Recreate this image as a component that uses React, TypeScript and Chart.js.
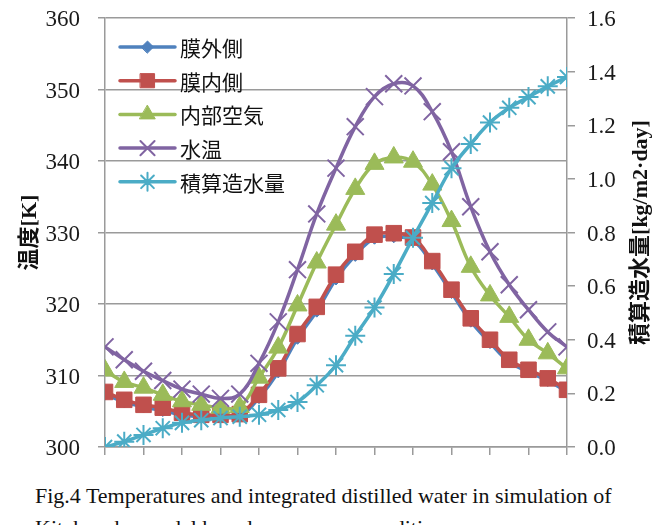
import React, { useEffect, useRef } from 'react';
import { Chart, registerables } from 'chart.js';
import { drawPoint } from 'chart.js/helpers';

Chart.register(...registerables);

// ---- data ----
const hours = [0, 1, 2, 3, 4, 5, 6, 7, 8, 9, 10, 11, 12, 13, 14, 15, 16, 17, 18, 19, 20, 21, 22, 23, 24];
const seriesNames = ['膜外側', '膜内側', '内部空気', '水温', '積算造水量'];
const membraneOuter = [307.4, 306.3, 305.6, 305.1, 304.5, 304.2, 304.2, 304.3, 306.9, 310.5, 315.2, 319.0, 323.5, 326.8, 329.2, 329.4, 328.9, 325.6, 321.6, 317.6, 314.6, 311.9, 310.5, 309.3, 307.7];
const membraneInner = [307.7, 306.6, 305.9, 305.5, 304.8, 304.5, 304.5, 304.6, 307.3, 311.0, 315.8, 319.6, 324.1, 327.3, 329.7, 329.9, 329.3, 326.0, 322.0, 318.0, 315.0, 312.2, 310.8, 309.6, 308.0];
const innerAir = [310.7, 309.1, 308.3, 307.3, 306.4, 305.9, 305.5, 305.6, 309.7, 313.9, 319.8, 325.8, 331.1, 336.1, 339.6, 340.5, 339.9, 336.7, 331.6, 325.2, 321.2, 318.2, 315.0, 313.1, 311.0];
const waterTemp = [314.0, 312.2, 310.6, 309.3, 308.1, 307.4, 306.8, 307.4, 311.7, 317.5, 324.8, 332.6, 339.0, 344.8, 349.0, 350.8, 350.5, 346.9, 341.3, 333.6, 327.3, 322.7, 319.2, 316.1, 314.0];
const integratedWater = [0.0, 0.02, 0.045, 0.07, 0.09, 0.1, 0.108, 0.113, 0.12, 0.138, 0.168, 0.23, 0.305, 0.415, 0.52, 0.645, 0.78, 0.91, 1.04, 1.13, 1.21, 1.265, 1.305, 1.345, 1.38];

const leftTitle = '温度[K]';
const rightTitle = '積算造水量[kg/m2·day]';
const captionLine1 = 'Fig.4 Temperatures and integrated distilled water in simulation of';
const captionLine2 = 'Kitakyushu model based on summer conditions';

const SERIF = "'Liberation Serif', 'Times New Roman', serif";
const SERIF_CJK = "'Liberation Serif', 'Noto Sans CJK JP', serif";
const GOTHIC = "'Noto Sans CJK JP', 'Noto Sans', sans-serif";
const GRID = '#9a9a9a';

const overlayPlugin = {
  id: 'overlay',
  afterDatasetsDraw(chart: any) {
    const ctx = chart.ctx;
    const area = chart.chartArea;
    // legend
    chart.data.datasets.forEach((ds: any, i: number) => {
      const y = area.top + 29 + i * 33.7;
      const x0 = area.left + 15;
      const x1 = x0 + 55;
      ctx.save();
      ctx.strokeStyle = ds.borderColor;
      ctx.lineWidth = ds.borderWidth;
      ctx.lineCap = 'round';
      ctx.beginPath();
      ctx.moveTo(x0, y);
      ctx.lineTo(x1, y);
      ctx.stroke();
      ctx.fillStyle = ds.pointBackgroundColor;
      ctx.strokeStyle = ds.pointBorderColor;
      ctx.lineWidth = ds.pointBorderWidth;
      drawPoint(ctx, { pointStyle: ds.pointStyle, rotation: 0, radius: ds.legendRadius, borderWidth: ds.pointBorderWidth }, (x0 + x1) / 2, y);
      ctx.fillStyle = '#111';
      ctx.font = `21px ${GOTHIC}`;
      ctx.textAlign = 'left';
      ctx.textBaseline = 'middle';
      ctx.fillText(ds.label, x1 + 5, y + 1);
      ctx.restore();
    });
    // axis titles
    const cy = (area.top + area.bottom) / 2;
    const drawTitle = (text: string, x: number) => {
      ctx.save();
      ctx.fillStyle = '#111';
      ctx.textAlign = 'center';
      ctx.textBaseline = 'middle';
      ctx.font = `bold 22px ${SERIF_CJK}`;
      ctx.translate(x, cy);
      ctx.rotate(-Math.PI / 2);
      ctx.fillText(text, 0, 0);
      ctx.restore();
    };
    drawTitle(leftTitle, 30);
    drawTitle(rightTitle, 641);
  },
};

export default function App() {
  const ref = useRef<HTMLCanvasElement | null>(null);
  useEffect(() => {
    if (!ref.current) return;
    const mk = (label: string, data: number[], color: string, style: string, radius: number, legendRadius: number, order: number, axis: string, bw: number, filled: boolean) => ({
      label,
      data,
      borderColor: color,
      backgroundColor: color,
      borderWidth: 3.5,
      pointStyle: style,
      pointRadius: radius,
      legendRadius,
      pointBackgroundColor: filled ? color : 'transparent',
      pointBorderColor: color,
      pointBorderWidth: bw,
      tension: 0.4,
      order,
      yAxisID: axis,
      fill: false,
    });
    const chart = new Chart(ref.current, {
      type: 'line',
      data: {
        labels: hours,
        datasets: [
          mk(seriesNames[0], membraneOuter, '#4F81BD', 'rectRot', 6, 6, 5, 'y', 1, true),
          mk(seriesNames[1], membraneInner, '#C0504D', 'rect', 11, 10, 4, 'y', 1, true),
          mk(seriesNames[2], innerAir, '#9BBB59', 'triangle', 11, 9, 3, 'y', 1, true),
          mk(seriesNames[3], waterTemp, '#8064A2', 'crossRot', 12, 10, 2, 'y', 2, false),
          mk(seriesNames[4], integratedWater, '#4BACC6', 'star', 10, 9, 1, 'y1', 2, false),
        ] as any,
      },
      options: {
        responsive: false,
        animation: false,
        devicePixelRatio: 1,
        layout: { padding: { top: 18, left: 0, right: 0, bottom: 0 } },
        plugins: { legend: { display: false }, tooltip: { enabled: false }, title: { display: false } },
        scales: {
          x: {
            type: 'linear',
            min: 0,
            max: 24,
            ticks: { stepSize: 2, callback: () => '', padding: 0 },
            grid: { drawOnChartArea: false, drawTicks: true, tickLength: 8, color: GRID, lineWidth: 1.5 },
            border: { display: true, color: GRID, width: 1.5 },
            afterFit: (s: any) => { s.height = 23; s.paddingLeft = 0; s.paddingRight = 0; },
          },
          y: {
            position: 'left',
            min: 300,
            max: 360,
            ticks: { stepSize: 10, color: '#1a1a1a', font: { family: SERIF, size: 23 }, padding: 18, labelOffset: 2 },
            grid: { color: GRID, lineWidth: 1.5, drawTicks: true, tickLength: 7 },
            border: { display: true, color: GRID, width: 1.5 },
            afterFit: (s: any) => { s.width = 105; s.paddingTop = 0; s.paddingBottom = 0; },
          },
          y1: {
            position: 'right',
            min: 0,
            max: 1.6,
            ticks: { stepSize: 0.2, color: '#1a1a1a', font: { family: SERIF, size: 23 }, padding: 12, labelOffset: 2, callback: (v: any) => Number(v).toFixed(1) },
            grid: { drawOnChartArea: false, color: GRID, lineWidth: 1.5, drawTicks: true, tickLength: 8 },
            border: { display: true, color: GRID, width: 1.5 },
            afterFit: (s: any) => { s.width = 103; s.paddingTop = 0; s.paddingBottom = 0; },
          },
        },
      } as any,
      plugins: [overlayPlugin],
    });
    return () => chart.destroy();
  }, []);

  return (
    <div style={{ position: 'absolute', left: 0, top: 0, width: 670, height: 525, background: '#fff', overflow: 'hidden' }}>
      <canvas ref={ref} width={670} height={470} style={{ display: 'block', width: 670, height: 470 }} />
      <div style={{ position: 'absolute', left: 35, top: 480, fontFamily: SERIF, fontSize: 22, lineHeight: '32px', color: '#111', whiteSpace: 'nowrap' }}>
        <div>{captionLine1}</div>
        <div>{captionLine2}</div>
      </div>
    </div>
  );
}
